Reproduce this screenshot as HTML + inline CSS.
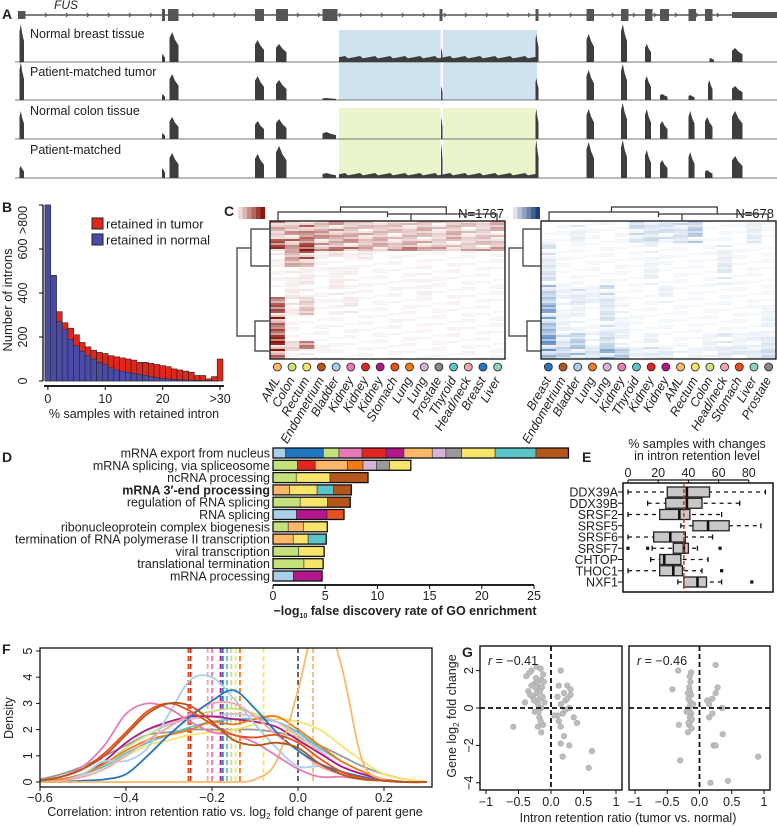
<!DOCTYPE html>
<html><head><meta charset="utf-8">
<style>
html,body{margin:0;padding:0;background:#fff}
svg{display:block;font-family:"Liberation Sans",sans-serif}
</style></head>
<body>
<svg id="fig" width="777" height="826" viewBox="0 0 777 826" xmlns="http://www.w3.org/2000/svg">
<g id="gA"></g>
<g id="gB"></g>
<g id="gC"></g>
<g id="gD"></g>
<g id="gE"></g>
<g id="gF"></g>
<g id="gG"></g>
</svg>
<script>
const NS="http://www.w3.org/2000/svg";
const S=v=>v*1.5;
function mk(p,tag,a,txt){const e=document.createElementNS(NS,tag);for(const k in a)e.setAttribute(k,a[k]);if(txt!==undefined)e.textContent=txt;p.appendChild(e);return e;}
function T(p,x,y,s,o){o=o||{};const e=mk(p,'text',Object.assign({x:x,y:y,'font-size':o.fs||12,fill:o.fill||'#222','text-anchor':o.a||'start'},o.extra||{}),s);

return e;}
const fig=document.getElementById('fig');
const gA=document.getElementById('gA'),gB=document.getElementById('gB'),gC=document.getElementById('gC'),gD=document.getElementById('gD'),gE=document.getElementById('gE'),gF=document.getElementById('gF'),gG=document.getElementById('gG');

[['A',2,19],['B',2,212],['C',224,216],['D',2,462],['E',582,462],['F',2,654],['G',462,657]].forEach(l=>{T(fig,l[1],l[2],l[0],{fs:14,extra:{'font-weight':'bold'},name:'panel-letter-'+l[0].toLowerCase()});});

/* ---------- Panel A ---------- */
const exons=[[12,17,8],[108,110,12],[112,119,12],[170,176,12],[184,192,12],[215,225,12],[293,295,12],[357,359,12],[391,396,12],[414,419,12],[430,435,12],[440,446,12],[459,464,12],[470,475,12],[488,520,6]];
mk(gA,'line',{x1:S(12),y1:15,x2:S(520),y2:15,stroke:'#555','stroke-width':1.5});
exons.forEach(e=>{const r=mk(gA,'rect',{x:S(e[0]),y:15-e[2]/2,width:S(e[1]-e[0]),height:e[2],fill:'#555'});});
for(let x=30;x<500;x+=14){mk(gA,'path',{d:'M'+S(x)+',13 l2,2 l-2,2',fill:'none',stroke:'#555','stroke-width':1});}
T(gA,S(36),9,'FUS',{fs:12,extra:{'font-style':'italic'},name:'gene-name'});
mk(gA,'rect',{x:S(226),y:30,width:S(132),height:70,fill:'#cfe2ef'});
mk(gA,'rect',{x:S(226),y:108,width:S(132),height:70,fill:'#eaf5cc'});
mk(gA,'rect',{x:S(293)+1,y:30,width:2.5,height:148,fill:'#fff'});
const baselines=[62,100,139,178];
const trackNames=['Normal breast tissue','Patient-matched tumor','Normal colon tissue','Patient-matched'];
const peaks=[
 [[13,16,38],[108,110,8],[113,119,30],[170,176,22],[184,191,18],[294,295,14],[357,359,28],[391,396,28],[414,418,38],[430,434,18],[473,476,4],[488,495,14]],
 [[13,16,38],[108,110,6],[113,119,26],[170,176,24],[184,191,20],[215,224,2],[294,295,14],[357,359,22],[391,396,30],[414,418,36],[430,434,24],[440,445,6],[459,463,5],[472,475,20],[488,495,14]],
 [[13,16,28],[108,110,6],[113,119,22],[170,176,18],[184,191,20],[215,224,7],[294,295,22],[357,359,30],[391,396,30],[414,418,36],[430,434,30],[440,445,18],[459,463,28],[470,475,22],[488,495,28]],
 [[13,16,12],[108,110,10],[113,119,25],[170,176,24],[184,191,32],[215,224,5],[294,295,35],[357,359,38],[391,396,36],[414,418,38],[430,434,28],[440,445,18],[459,463,26],[470,475,8],[488,495,22]]];
const intronLvl=[5,0.5,0.5,4];
baselines.forEach((b,i)=>{
 mk(gA,'line',{x1:S(10),y1:b,x2:S(520),y2:b,stroke:'#777','stroke-width':1});
 peaks[i].forEach(p=>{const x1=S(p[0]),x2=S(p[1]);const h=p[2];
  const r=mk(gA,'path',{d:'M'+x1+','+b+' L'+x1+','+(b-h*0.8)+' L'+(x1+(x2-x1)*0.3)+','+(b-h)+' L'+(x1+(x2-x1)*0.6)+','+(b-h*0.75)+' L'+x2+','+(b-h*0.55)+' L'+x2+','+b+'Z',fill:'#3d3d3d'});
  });
 if(intronLvl[i]>1){let d='M'+S(226)+','+b;for(let x=226;x<=358;x+=2){d+=' L'+S(x)+','+(b-intronLvl[i]+((x*7)%5)*0.6-1);}d+=' L'+S(358)+','+b+'Z';mk(gA,'path',{d:d,fill:'#3d3d3d'});}
 T(gA,30,[38,76,115,154][i],trackNames[i],{fs:12.5,name:'track-label'});
});

/* ---------- Panel B ---------- */
const bBins=['0','1','2','3','4','5','6','7','8','9','10','11','12','13','14','15','16','17','18','19','20','21','22','23','24','25','26','27','28','29','>30'];
const bNormal=[820,480,270,235,190,160,135,115,100,85,75,60,50,45,40,35,30,25,20,15,12,10,8,6,5,4,3,2,2,1,0];
const bTotal=[820,480,315,265,240,210,175,155,140,130,125,115,110,105,100,95,85,85,80,75,70,65,55,50,45,40,25,25,10,20,100];
const bx0=45,bw=5.74,by0=381,bys=176/800;
const yB=v=>by0-Math.min(v,800)*bys;
bBins.forEach((c,i)=>{
 const r1=mk(gB,'rect',{x:bx0+i*bw,y:yB(bTotal[i]),width:bw,height:by0-yB(bTotal[i]),fill:'#e3261c',stroke:'#222','stroke-width':0.6});
 
 const r2=mk(gB,'rect',{x:bx0+i*bw,y:yB(bNormal[i]),width:bw,height:by0-yB(bNormal[i]),fill:'#4a4aa8',stroke:'#222','stroke-width':0.5});
 
});
mk(gB,'line',{x1:44,y1:386,x2:224,y2:386,stroke:'#000','stroke-width':1.8});
[['0',0],['10',10],['20',20],['>30',30]].forEach(t=>{const x=bx0+(t[1]+0.5)*bw;mk(gB,'line',{x1:x,y1:386,x2:x,y2:390,stroke:'#000'});T(gB,x,403,t[0],{a:'middle',fs:12.5,name:'x-tick-label'});});
mk(gB,'line',{x1:43,y1:205,x2:43,y2:381,stroke:'#000','stroke-width':1.3});
[['0',0],['200',200],['400',400],['600',600],['>800',800]].forEach(t=>{const y=yB(t[1]);mk(gB,'line',{x1:39,y1:y,x2:43,y2:y,stroke:'#000'});const ly=t[1]===800?220:y;T(gB,27,ly,t[0],{a:'middle',fs:12.5,extra:{transform:'rotate(-90 27 '+ly+')'},name:'y-tick-label'});});
T(gB,12,300,'Number of introns',{fs:13,a:'middle',extra:{transform:'rotate(-90 12 300)'},name:'y-axis-title'});
T(gB,134,418,'% samples with retained intron',{fs:12.5,a:'middle',name:'x-axis-title'});
mk(gB,'rect',{x:92,y:218,width:11,height:11,fill:'#e3261c',stroke:'#222'});
mk(gB,'rect',{x:92,y:234,width:11,height:11,fill:'#4a4aa8',stroke:'#222'});
T(gB,106,228.5,'retained in tumor',{fs:13,name:'legend-entry'});
T(gB,106,244.5,'retained in normal',{fs:13,name:'legend-entry'});

/* ---------- Panel C ---------- */
const leftCols=['AML','Colon','Rectum','Endometrium','Bladder','Kidney','Kidney','Kidney','Stomach','Lung','Lung','Prostate','Thyroid','Head/neck','Breast','Liver'];
const leftColColors=['#fbb869','#c5e17a','#f7e46a','#b5561b','#a9cfe9','#e87bb5','#e0261f','#b3178c','#e8501e','#f07a18','#d7b5d8','#888888','#5bc4c9','#f4a5ae','#2277c0','#8fd3b6'];
const rightCols=['Breast','Endometrium','Bladder','Lung','Lung','Kidney','Thyroid','Kidney','Kidney','AML','Rectum','Colon','Head/neck','Stomach','Liver','Prostate'];
const rightColColors=['#2277c0','#b5561b','#a9cfe9','#f07a18','#d7b5d8','#e87bb5','#5bc4c9','#e0261f','#b3178c','#fbb869','#f7e46a','#c5e17a','#f4a5ae','#e8501e','#8fd3b6','#888888'];
const leftBlocks=[
 [0,0.06,[.6,.3,.7,.4,.5,.4,.3,.4,.3,.3,.4,.3,.4,.3,.3,.4]],
 [0.06,0.12,[.3,.5,.8,.5,.6,.4,.4,.4,.3,.4,.3,.3,.4,.3,.3,.3]],
 [0.12,0.18,[.8,.7,.9,.5,.5,.5,.4,.4,.4,.4,.4,.3,.3,.3,.3,.4]],
 [0.18,0.21,[1,.8,1,.8,.7,.7,.7,.7,.6,.6,.6,.5,.5,.5,.5,.6]],
 [0.21,0.27,[.1,.5,.8,.1,.15,.1,.1,.05,.05,.05,.05,.05,.05,.05,.05,.05]],
 [0.27,0.33,[.1,.4,.5,.05,.05,.05,.05,.05,.05,.05,.05,.05,.05,.05,.05,.05]],
 [0.33,0.55,[.05,.1,.1,.05,.1,.08,.05,.05,.05,.05,.08,.05,.05,.05,.05,.05]],
 [0.55,0.68,[.8,.15,.3,.05,.08,.1,.05,.05,.05,.05,.05,.05,.05,.05,.05,.05]],
 [0.68,0.86,[1,.05,.05,.05,.05,.05,.05,.05,.05,.05,.05,.05,.05,.05,.05,.05]],
 [0.86,0.93,[1,.25,.6,.1,.05,.05,.05,.05,.05,.05,.05,.05,.05,.05,.05,.05]],
 [0.93,1,[1,.05,.1,.05,.05,.05,.05,.05,.05,.05,.05,.05,.05,.05,.05,.05]]];
const rightBlocks=[
 [0,0.15,[.05,.05,.15,.05,.05,.05,.25,.25,.2,.25,.35,.05,.05,.05,.15,.05]],
 [0.15,0.45,[.2,.05,.05,.05,.05,.05,.05,.1,.05,.05,.05,.05,.15,.05,.05,.05]],
 [0.45,0.6,[.45,.1,.2,.1,.25,.05,.05,.05,.1,.05,.05,.05,.05,.05,.05,.05]],
 [0.6,0.8,[.6,.1,.1,.05,.2,.1,.05,.05,.05,.05,.05,.05,.05,.05,.05,.1]],
 [0.8,0.9,[.7,.25,.35,.1,.3,.1,.05,.1,.05,.05,.05,.1,.15,.1,.1,.2]],
 [0.9,1,[.7,.35,.45,.25,.55,.45,.1,.2,.15,.1,.1,.1,.2,.15,.2,.25]]];
const texture=[1,0.5,0.8,0.2,1,0.6,0.3,0.9,0.4,0.7,0.1,0.85,0.55,0.25,0.95,0.45];
function heat(x0,y0,w,h,blocks,rgb,name){
 const cw=w/16,rh=2;
 for(let y=0;y<h;y+=rh){
  const f=y/h;const b=blocks.find(q=>f>=q[0]&&f<q[1])||blocks[blocks.length-1];
  for(let c=0;c<16;c++){const v=b[2][c]*texture[(Math.floor(y/rh)*3+c*5)%16];if(v<0.04)continue;
   const r=mk(gC,'rect',{x:x0+c*cw,y:y0+y,width:cw+0.2,height:rh,fill:rgb,'fill-opacity':Math.min(1,v)});
   }
 }
 mk(gC,'rect',{x:x0,y:y0,width:w,height:h,fill:'none',stroke:'#111','stroke-width':1.3});
}
heat(270,221,235,138,leftBlocks,'#8c150c','left-heatmap');
heat(541,221,235,138,rightBlocks,'#1f5fa8','right-heatmap');
for(let i=0;i<6;i++){mk(gC,'rect',{x:238+i*4.5,y:207,width:4.5,height:12,fill:'#8c150c','fill-opacity':0.15+i*0.17});mk(gC,'rect',{x:513+i*4.5,y:207,width:4.5,height:12,fill:'#1f3f78','fill-opacity':0.15+i*0.17});}
T(gC,504,218,'N=1767',{fs:13,a:'end',name:'n-label'});T(gC,774,218,'N=678',{fs:13,a:'end',name:'n-label'});
function dend(x0,y0,w,name){const d='M'+(x0+8)+','+(y0+9)+' V'+y0+' H'+(x0+w*0.5)+' V'+(y0+5)+' M'+(x0+w*0.3)+','+y0+' V'+(y0-5)+' H'+(x0+w*0.75)+' V'+(y0+2)+' M'+(x0+w*0.5)+','+(y0+2)+' H'+(x0+w-8)+' V'+(y0+9)+' M'+(x0+w*0.6)+','+(y0+2)+' V'+(y0+9);
 const p=mk(gC,'path',{d:d,fill:'none',stroke:'#333','stroke-width':1.2});}
dend(270,212,235,'left-column-dendrogram');dend(541,212,235,'right-column-dendrogram');
function rdend(x0,y0,name){const d='M'+(x0+32)+','+(y0+8)+' H'+(x0+14)+' V'+(y0+45)+' H'+(x0+32)+' M'+(x0+14)+','+(y0+27)+' H'+x0+' V'+(y0+115)+' H'+(x0+18)+' V'+(y0+100)+' H'+(x0+32)+' M'+(x0+18)+','+(y0+115)+' V'+(y0+130)+' H'+(x0+32);
 const p=mk(gC,'path',{d:d,fill:'none',stroke:'#333','stroke-width':1.2});}
rdend(237,221,'left-row-dendrogram');rdend(509,221,'right-row-dendrogram');
function colLabels(x0,w,cols,colors,side){const cw=w/16;cols.forEach((c,i)=>{const cx=x0+cw*(i+0.5);
 const ci=mk(gC,'circle',{cx:cx,cy:367,r:4,fill:colors[i],stroke:'#222','stroke-width':0.8});
 T(gC,cx+3,380,c,{fs:12.5,a:'end',extra:{transform:'rotate(-60 '+(cx+3)+' 380)','font-style':'italic'},name:side+'-tissue-label'});});}
colLabels(270,235,leftCols,leftColColors,'left');colLabels(541,235,rightCols,rightColColors,'right');

/* ---------- Panel D ---------- */
const dTerms=['mRNA export from nucleus','mRNA splicing, via spliceosome','ncRNA processing',"mRNA 3\u2032-end processing",'regulation of RNA splicing','RNA splicing','ribonucleoprotein complex biogenesis','termination of RNA polymerase II transcription','viral transcription','translational termination','mRNA processing'];
const dValues=[28.3,13.2,9.1,7.5,7.4,6.8,5.2,5.1,4.9,4.8,4.7];
const dSegColors=[
 ['#a9cfe9','#2277c0','#c5e17a','#e87bb5','#e0261f','#b3178c','#fbb869','#d7b5d8','#999999','#f7e46a','#5bc4c9','#b5561b'],
 ['#c5e17a','#e0261f','#fbb869','#f07a18','#d7b5d8','#999999','#f7e46a'],
 ['#c5e17a','#f7e46a','#b5561b'],
 ['#fbb869','#f7e46a','#5bc4c9','#b5561b'],
 ['#c5e17a','#f7e46a','#b5561b'],
 ['#a9cfe9','#b3178c','#e8501e'],
 ['#c5e17a','#fbb869','#f7e46a'],
 ['#fbb869','#f7e46a','#5bc4c9'],
 ['#c5e17a','#f7e46a'],['#c5e17a','#f7e46a'],['#a9cfe9','#b3178c']];
const dSegFrac=[[1.2,3.6,1.5,2.2,2.3,1.7,2.7,1.3,1.5,3.2,3.9,3.1],[2.2,1.6,2.9,1.4,1.2,1.2,1.9],[2.2,3.2,3.6],[1.5,2.5,1.5,1.6],[2.5,2.5,2.1],[2.2,2.9,1.6],[1.4,1.4,2.2],[1.9,1.4,1.7],[2.4,2.4],[2.9,1.8],[1.9,2.7]];
const xD=v=>273+v*10.44;
dTerms.forEach((t,i)=>{const y=453+i*12.3;const tot=dSegFrac[i].reduce((a,b)=>a+b,0);let acc=0;
 dSegFrac[i].forEach((f,j)=>{const x1=xD(dValues[i]*acc/tot);acc+=f;const x2=xD(dValues[i]*acc/tot);
  const r=mk(gD,'rect',{x:x1,y:y-5,width:x2-x1,height:10,fill:dSegColors[i][j],stroke:'#333','stroke-width':0.6});});
 const o=mk(gD,'rect',{x:xD(0),y:y-5,width:xD(dValues[i])-xD(0),height:10,fill:'none',stroke:'#111','stroke-width':1.3});
 T(gD,270,y+4.5,t,{fs:12.5,a:'end',extra:i===3?{'font-weight':'bold'}:{},name:'go-term-label'});});
mk(gD,'line',{x1:xD(0),y1:585,x2:xD(25),y2:585,stroke:'#000','stroke-width':1.8});
[0,5,10,15,20,25].forEach(v=>{mk(gD,'line',{x1:xD(v),y1:585,x2:xD(v),y2:589,stroke:'#000'});T(gD,xD(v),600,String(v),{a:'middle',fs:12.5,name:'x-tick-label'});});
const dt=T(gD,405,615,'\u2212log',{fs:12.5,a:'middle',extra:{'font-weight':'bold'},name:'x-axis-title'});
mk(dt,'tspan',{'font-size':7,dy:3},'10');mk(dt,'tspan',{dy:-3},' false discovery rate of GO enrichment');

/* ---------- Panel E ---------- */
const eGenes=['DDX39A','DDX39B','SRSF2','SRSF5','SRSF6','SRSF7','CHTOP','THOC1','NXF1'];
const eMin=[0,13,0,35,0,16,15,0,33];
const eQ1=[26,25,21,43,17,30,21,21,37];
const eMed=[39,39,34,53,28,37,24,30,46];
const eQ3=[54,49,41,67,38,40,35,36,52];
const eMax=[91,74,62,88,56,46,53,49,62];
const eOut=[[],[],[],[],[],[0,13,61],[],[62],[82]];
const eRef=37;
const xE=v=>628+v*1.51;
mk(gE,'rect',{x:623,y:483,width:150,height:109,fill:'none',stroke:'#111','stroke-width':1.5});
eGenes.forEach((g,i)=>{const y=492+i*11.25;
 mk(gE,'line',{x1:xE(eMin[i]),y1:y,x2:xE(eMax[i]),y2:y,stroke:'#111','stroke-dasharray':'4,4','stroke-width':1.3});
 mk(gE,'line',{x1:xE(eMin[i]),y1:y-2.5,x2:xE(eMin[i]),y2:y+2.5,stroke:'#111','stroke-width':1.3});
 mk(gE,'line',{x1:xE(eMax[i]),y1:y-2.5,x2:xE(eMax[i]),y2:y+2.5,stroke:'#111','stroke-width':1.3});
 const b=mk(gE,'rect',{x:xE(eQ1[i]),y:y-5,width:xE(eQ3[i])-xE(eQ1[i]),height:10,fill:'#c8c8c8',stroke:'#222','stroke-width':1.3});
 mk(gE,'line',{x1:xE(eMed[i]),y1:y-5,x2:xE(eMed[i]),y2:y+5,stroke:'#111','stroke-width':2.6});
 eOut[i].forEach(o=>{mk(gE,'rect',{x:xE(o)-1.6,y:y-1.6,width:3.2,height:3.2,fill:'#111'});});
 mk(gE,'line',{x1:618,y1:y,x2:623,y2:y,stroke:'#111'});
 T(gE,618,y+4.5,g,{fs:12.5,a:'end',name:'gene-label'});});
mk(gE,'line',{x1:xE(eRef),y1:483,x2:xE(eRef),y2:592,stroke:'#e0261f','stroke-dasharray':'4,2','stroke-width':1.4});
mk(gE,'line',{x1:xE(0),y1:480,x2:xE(80),y2:480,stroke:'#111','stroke-width':1.2});
[0,20,40,60,80].forEach(v=>{mk(gE,'line',{x1:xE(v),y1:480,x2:xE(v),y2:483,stroke:'#111'});T(gE,xE(v),477,String(v),{a:'middle',fs:12.5,name:'top-tick-label'});});
T(gE,697,448,'% samples with changes',{fs:12.5,a:'middle',name:'axis-title'});
T(gE,697,460,'in intron retention level',{fs:12.5,a:'middle',name:'axis-title'});

/* ---------- Panel F ---------- */
const fX=[-0.6,-0.55,-0.5,-0.45,-0.4,-0.35,-0.3,-0.25,-0.2,-0.15,-0.1,-0.05,0,0.05,0.1,0.15,0.2,0.25,0.3];
const fColors=['#999999','#f7e46a','#5bc4c9','#c5e17a','#d7b5d8','#b3178c','#f07a18','#a9cfe9','#f4a5ae','#2277c0','#fbb869','#e87bb5','#e8501e','#b5561b'];
const fGray=[0.1,0.3,0.6,1.0,1.4,1.8,1.9,2.0,2.0,2.0,2.0,1.9,1.7,1.4,1.0,0.6,0.3,0.1,0];
const fYellow=[0,0.1,0.3,0.6,1.0,1.4,1.6,1.8,1.9,2.0,2.2,2.4,2.3,2.0,1.4,0.8,0.3,0.1,0];
const fTeal=[0,0.1,0.3,0.6,1.1,1.5,1.8,2.1,2.3,2.4,2.4,2.3,1.9,1.3,0.8,0.4,0.1,0,0];
const fGreen=[0,0.1,0.3,0.7,1.3,1.8,2.2,2.5,2.7,2.8,2.6,2.3,1.7,1.1,0.6,0.3,0.1,0,0];
const fLilac=[0,0.1,0.3,0.8,1.5,2.0,2.2,2.4,2.5,2.6,2.5,2.3,1.8,1.2,0.6,0.3,0.1,0,0];
const fMagenta=[0,0.1,0.3,0.8,1.5,2.0,2.3,2.5,2.5,2.4,2.3,2.1,1.6,1.1,0.6,0.3,0.1,0,0];
const fOrange=[0,0.1,0.3,0.7,1.2,1.6,1.8,2.0,2.3,2.2,2.4,2.5,2.0,1.4,0.8,0.4,0.1,0,0];
const fLightBlue=[0,0.05,0.3,0.8,0.8,1.3,2.6,3.9,4.0,3.2,2.2,1.3,0.6,0.6,0.4,0.2,0.05,0,0];
const fSalmon=[0,0.05,0.2,0.5,1.0,1.6,2.1,2.6,3.0,3.0,2.5,1.8,1.2,0.6,0.3,0.1,0.05,0,0];
const fBlue=[0,0,0.05,0.1,0.3,1.0,1.8,2.5,3.1,3.5,2.8,1.9,1.2,0.7,0.4,0.2,0.05,0,0];
const fLightOrange=[0,0,0,0,0,0,0,0,0,0,0.1,0.8,3.5,6.5,4.5,0.8,0.1,0,0];
const fPink=[0.05,0.2,0.6,1.4,2.6,3.0,2.8,2.3,1.9,1.8,1.5,1.0,0.5,0.2,0.2,0.1,0.05,0,0];
const fRed=[0.05,0.2,0.5,1.1,1.9,2.7,3.0,2.7,2.2,1.8,1.7,1.8,1.5,0.9,0.4,0.15,0.05,0,0];
const fBrown=[0.05,0.2,0.5,1.0,1.8,2.6,3.0,2.9,2.3,1.6,1.4,1.5,1.3,0.7,0.3,0.1,0.05,0,0];
const fSeries=[fGray,fYellow,fTeal,fGreen,fLilac,fMagenta,fOrange,fLightBlue,fSalmon,fBlue,fLightOrange,fPink,fRed,fBrown];
const fMeans=[-0.255,-0.25,-0.21,-0.2,-0.18,-0.175,-0.165,-0.155,-0.145,-0.135,-0.08,0,0.035];
const fMeanColors=['#e8501e','#e0261f','#f4a5ae','#e87bb5','#b3178c','#2277c0','#5bc4c9','#c5e17a','#f7e46a','#f07a18','#f7e46a','#555555','#fbb869'];
const xF=v=>298+v*430, yF=v=>782-v*26.2;
const clip=mk(gF,'clipPath',{id:'fclip'});mk(clip,'rect',{x:40,y:648,width:392,height:139});
const fg=mk(gF,'g',{'clip-path':'url(#fclip)'});
function smooth(xs,ys){const P=xs.map((x,i)=>[xF(x),yF(ys[i])]);let d='M'+P[0][0]+','+P[0][1];
 for(let i=0;i<P.length-1;i++){const p0=P[Math.max(0,i-1)],p1=P[i],p2=P[i+1],p3=P[Math.min(P.length-1,i+2)];
  d+=' C'+(p1[0]+(p2[0]-p0[0])/6)+','+(p1[1]+(p2[1]-p0[1])/6)+' '+(p2[0]-(p3[0]-p1[0])/6)+','+(p2[1]-(p3[1]-p1[1])/6)+' '+p2[0]+','+p2[1];}return d;}
fMeans.forEach((m,i)=>{const l=mk(fg,'line',{x1:xF(m),y1:648,x2:xF(m),y2:784,stroke:fMeanColors[i],'stroke-dasharray':'5,3','stroke-width':1.8});});
fSeries.forEach((s,i)=>{const p=mk(fg,'path',{d:smooth(fX,s),fill:'none',stroke:fColors[i],'stroke-width':1.8});});
mk(gF,'rect',{x:40,y:648,width:392,height:139,fill:'none',stroke:'#111','stroke-width':1.3});
[-0.6,-0.4,-0.2,0,0.2].forEach(v=>{mk(gF,'line',{x1:xF(v),y1:787,x2:xF(v),y2:791,stroke:'#111'});T(gF,xF(v),802,(v<0?'\u2212':'')+Math.abs(v).toFixed(1),{fs:13,a:'middle',name:'x-tick-label'});});
[0,1,2,3,4,5].forEach(v=>{const y=yF(v);mk(gF,'line',{x1:36,y1:y,x2:40,y2:y,stroke:'#111'});T(gF,32,y,String(v),{fs:12.5,a:'middle',extra:{transform:'rotate(-90 32 '+y+')'},name:'y-tick-label'});});
T(gF,13,718,'Density',{fs:12.5,a:'middle',extra:{transform:'rotate(-90 13 718)'},name:'y-axis-title'});
const ft=T(gF,235,816,'Correlation: intron retention ratio vs. log',{fs:12.5,a:'middle',name:'x-axis-title'});
mk(ft,'tspan',{'font-size':8,dy:3},'2');mk(ft,'tspan',{dy:-3},' fold change of parent gene');

/* ---------- Panel G ---------- */
const gLeftX=[-0.25,-0.2,-0.3,-0.15,-0.22,-0.18,-0.28,-0.2,-0.15,-0.1,-0.25,-0.18,-0.12,-0.15,-0.2,-0.35,-0.3,-0.22,-0.12,-0.14,-0.26,-0.17,-0.23,-0.32,-0.19,-0.13,-0.58,-0.4,-0.16,-0.21,0.15,0.12,0.2,0.25,0.3,0.22,0.15,0.28,0.35,0.4,0.18,0.12,0.15,0.2,0.15,0.28,0.18,0.63,0.58,0.1,0.3,0.22,0.1,0.25,0.05,-0.38,-0.33,-0.24,-0.16,-0.11];
const gLeftY=[1.3,1.0,1.2,1.5,0.8,0.5,0.6,0.2,0.0,0.3,-0.2,-0.5,-0.9,-1.3,-1.0,0.9,2.0,2.2,1.8,1.1,0.4,0.9,1.6,0.7,-0.2,0.6,-1.0,0.3,2.1,1.3,2.0,1.2,0.8,1.2,0.7,0.4,0.2,0.0,-0.5,-0.8,-0.3,-0.7,-1.0,-1.5,-1.9,-2.0,-2.6,-2.3,-3.2,0.6,1.0,-0.1,-0.4,0.5,-0.4,1.7,1.9,1.1,-0.7,1.4];
const gRightX=[-0.15,-0.14,-0.16,-0.15,-0.13,-0.17,-0.14,-0.15,-0.16,-0.13,-0.15,-0.14,-0.16,-0.12,-0.18,-0.2,-0.1,-0.12,-0.18,-0.42,-0.32,-0.3,0.12,0.15,0.2,0.25,0.28,0.35,0.2,0.22,0.25,0.36,0.25,0.17,0.44,0.91,0.15,-0.33,-0.13,-0.17];
const gRightY=[1.7,1.4,1.1,0.9,0.7,0.5,0.3,0.1,-0.1,-0.3,-0.5,-0.7,-0.9,-1.1,-1.3,-0.2,0.2,-0.6,0.8,1.0,-0.9,-2.8,0.4,0.2,0.5,0.8,1.1,0.0,-0.3,-2.0,-2.0,-1.4,2.3,-4.0,-3.9,-2.6,-0.5,2.0,1.9,-0.8];
const gR=['r = \u22120.41','r = \u22120.46'];
const yG=v=>708-v*18.7;
function scat(x0,x1,xs,ys,r,name){const xG=v=>x0+(v+1)*(x1-x0)/2;
 mk(gG,'rect',{x:x0-6,y:646,width:x1-x0+12,height:144,fill:'none',stroke:'#111','stroke-width':1.4});
 xs.forEach((x,i)=>{const c=mk(gG,'circle',{cx:xG(x),cy:yG(ys[i]),r:2.8,fill:'#bdbdbd',stroke:'#a8a8a8','stroke-width':0.6});});
 mk(gG,'line',{x1:xG(0),y1:646,x2:xG(0),y2:790,stroke:'#111','stroke-dasharray':'5,3','stroke-width':1.8});
 mk(gG,'line',{x1:x0-6,y1:yG(0),x2:x1+6,y2:yG(0),stroke:'#111','stroke-dasharray':'5,3','stroke-width':1.8});
 [-1,-0.5,0,0.5,1].forEach(v=>{mk(gG,'line',{x1:xG(v),y1:790,x2:xG(v),y2:794,stroke:'#111'});T(gG,xG(v),806,v===0?'0.0':(v<0?'\u2212':'')+Math.abs(v),{fs:12.5,a:'middle',name:'x-tick-label'});});
 const t=T(gG,x0+2,665,'',{fs:12.5,name:'correlation-label'});mk(t,'tspan',{'font-style':'italic'},'r');mk(t,'tspan',{},r.slice(1));}
scat(486,616,gLeftX,gLeftY,gR[0],'left-scatter');
scat(635,764,gRightX,gRightY,gR[1],'right-scatter');
[2,0,-2,-4].forEach(v=>{const y=yG(v);mk(gG,'line',{x1:476,y1:y,x2:480,y2:y,stroke:'#111'});T(gG,473,y,v<0?'\u2212'+Math.abs(v):String(v),{fs:12.5,a:'middle',extra:{transform:'rotate(-90 473 '+y+')'},name:'y-tick-label'});});
const gy=T(gG,456,716,'Gene log',{fs:12.5,a:'middle',extra:{transform:'rotate(-90 456 716)'},name:'y-axis-title'});
mk(gy,'tspan',{'font-size':8,dy:3},'2');mk(gy,'tspan',{dy:-3},' fold change');
T(gG,628,822,'Intron retention ratio (tumor vs. normal)',{fs:12.5,a:'middle',name:'x-axis-title'});
</script>
</body></html>
